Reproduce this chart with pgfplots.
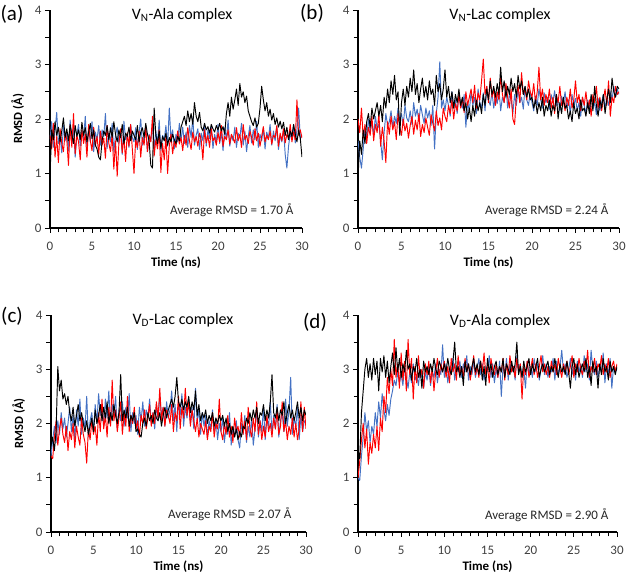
\documentclass[border=0pt]{standalone}
\usepackage{pgfplots}
\pgfplotsset{compat=1.18}
\usepackage{pgfplotstable}
\usepackage{fontspec}
\setmainfont{Carlito}
\definecolor{cblue}{HTML}{4472C4}
\definecolor{cred}{HTML}{FF0000}
\definecolor{tickgray}{HTML}{404040}

% ---------- panel (a) ----------
\pgfplotstableread[header=false,row sep=\\]{
1.62\\1.95\\1.48\\1.80\\2.12\\1.55\\1.70\\1.38\\1.88\\1.60\\
1.75\\1.42\\1.98\\1.56\\1.85\\1.30\\1.72\\1.90\\1.50\\1.78\\
1.64\\2.05\\1.45\\1.82\\1.58\\1.95\\1.40\\1.76\\1.62\\1.88\\
1.52\\1.80\\1.68\\2.10\\1.46\\1.74\\1.58\\1.92\\1.40\\1.70\\
1.85\\1.55\\1.78\\1.35\\1.96\\1.62\\1.70\\1.48\\1.90\\1.66\\
1.58\\1.84\\1.44\\1.75\\2.00\\1.52\\1.68\\1.86\\1.40\\1.72\\
1.60\\1.90\\1.46\\1.78\\1.55\\1.98\\1.42\\1.70\\1.62\\1.88\\
1.50\\2.20\\1.64\\1.80\\1.45\\1.72\\1.58\\1.92\\1.62\\1.85\\
1.55\\1.76\\1.48\\1.88\\1.66\\2.02\\1.52\\1.70\\1.82\\1.44\\
1.74\\1.60\\1.92\\1.50\\1.80\\1.64\\1.86\\1.46\\1.72\\1.58\\
1.90\\1.55\\1.76\\1.42\\1.84\\1.62\\1.98\\1.50\\1.70\\1.60\\
1.85\\1.48\\1.74\\1.66\\1.92\\1.52\\1.78\\1.40\\1.68\\1.88\\
1.56\\1.80\\1.62\\1.96\\1.48\\1.72\\1.60\\1.84\\1.45\\1.76\\
1.64\\1.90\\1.52\\1.78\\1.60\\1.86\\1.44\\1.70\\1.58\\1.82\\
1.35\\1.10\\1.50\\1.74\\1.62\\1.90\\1.56\\1.80\\2.20\\1.64\\
1.70\\
}\aB
\pgfplotstableread[header=false,row sep=\\]{
1.70\\1.45\\1.92\\1.30\\1.68\\1.20\\1.82\\1.55\\1.40\\1.75\\
1.62\\1.15\\1.88\\1.48\\2.10\\1.36\\1.70\\1.58\\1.25\\1.80\\
1.55\\1.72\\1.30\\1.90\\1.60\\1.42\\1.85\\1.50\\1.68\\1.35\\
1.78\\1.52\\1.65\\1.28\\1.88\\1.56\\1.40\\1.72\\1.08\\1.60\\
0.95\\1.55\\1.82\\1.38\\1.68\\1.22\\1.75\\1.50\\1.90\\1.45\\
1.00\\1.62\\1.48\\1.78\\1.30\\1.66\\1.52\\1.85\\1.40\\1.70\\
1.58\\2.05\\1.32\\1.62\\1.45\\1.80\\1.02\\1.55\\1.25\\1.68\\
1.00\\1.50\\1.72\\1.36\\1.60\\1.48\\1.78\\1.54\\1.66\\1.42\\
1.70\\1.52\\1.84\\1.60\\1.44\\1.76\\1.58\\1.68\\1.50\\1.74\\
1.62\\1.25\\1.80\\1.56\\1.70\\1.48\\1.82\\1.60\\1.66\\1.52\\
1.75\\1.58\\1.88\\1.50\\1.68\\1.62\\1.80\\1.54\\1.72\\1.64\\
1.56\\1.84\\1.60\\1.72\\1.48\\1.90\\1.62\\1.70\\1.55\\1.78\\
1.66\\1.52\\1.82\\1.60\\1.74\\1.50\\1.68\\1.86\\1.58\\1.70\\
1.62\\1.78\\1.54\\1.70\\1.66\\1.88\\1.50\\1.74\\1.60\\1.82\\
1.56\\1.72\\1.64\\1.90\\1.58\\1.76\\1.62\\2.35\\1.70\\1.80\\
1.65\\
}\aR
\pgfplotstableread[header=false,row sep=\\]{
0.95\\1.80\\1.62\\1.95\\1.70\\1.85\\1.58\\1.78\\2.02\\1.66\\
1.82\\1.60\\1.90\\1.72\\1.55\\1.88\\1.68\\1.80\\1.62\\1.94\\
1.70\\1.84\\1.58\\1.76\\1.92\\1.64\\1.80\\1.52\\1.45\\1.30\\
1.25\\1.60\\1.78\\1.70\\1.88\\1.62\\1.84\\1.66\\1.95\\1.72\\
1.58\\1.80\\1.66\\1.90\\1.55\\1.74\\1.68\\1.85\\1.60\\1.78\\
1.70\\1.62\\1.88\\1.58\\1.76\\1.84\\1.66\\1.92\\1.72\\1.60\\
1.15\\1.10\\2.20\\1.70\\1.55\\1.78\\1.46\\1.68\\1.60\\1.74\\
1.52\\1.66\\1.58\\1.72\\1.62\\1.55\\1.68\\1.60\\1.85\\1.95\\
2.05\\1.88\\2.15\\1.95\\2.10\\1.90\\2.30\\2.05\\1.95\\2.12\\
1.85\\1.78\\1.92\\1.80\\1.86\\1.74\\1.90\\1.82\\1.76\\1.88\\
1.80\\1.92\\1.78\\1.86\\1.72\\2.10\\2.30\\2.05\\2.40\\2.18\\
2.35\\2.55\\2.25\\2.65\\2.40\\2.50\\2.30\\2.42\\2.15\\2.05\\
1.95\\1.88\\2.02\\1.85\\1.92\\2.20\\2.60\\2.35\\2.15\\2.30\\
2.05\\2.18\\1.98\\2.10\\1.90\\2.02\\1.85\\1.96\\1.82\\1.94\\
1.70\\1.85\\1.62\\1.78\\1.68\\1.90\\1.72\\1.58\\1.80\\1.64\\
1.30\\
}\aK

% ---------- panel (b) ----------
\pgfplotstableread[header=false,row sep=\\]{
1.60\\1.30\\1.10\\1.45\\1.85\\1.65\\2.00\\1.78\\1.95\\1.70\\
2.05\\1.82\\1.90\\1.60\\1.25\\1.75\\2.10\\1.88\\1.95\\2.15\\
1.85\\2.05\\1.92\\2.20\\1.98\\2.10\\1.88\\2.25\\2.02\\1.95\\
2.15\\1.90\\2.30\\2.05\\2.18\\1.95\\2.25\\2.08\\1.92\\2.20\\
2.02\\2.15\\1.88\\2.25\\1.45\\2.10\\2.40\\3.05\\2.20\\2.35\\
2.15\\2.40\\2.25\\2.05\\2.50\\2.20\\2.35\\2.10\\2.45\\2.28\\
2.20\\2.45\\1.85\\2.30\\2.15\\2.50\\2.25\\2.40\\2.10\\2.55\\
2.30\\2.20\\2.48\\2.15\\2.60\\2.35\\2.25\\2.50\\2.20\\2.42\\
2.28\\2.55\\2.15\\2.40\\2.30\\2.62\\2.20\\2.45\\2.35\\2.10\\
2.45\\2.25\\2.55\\2.30\\2.40\\2.18\\2.60\\2.35\\2.25\\2.50\\
2.30\\2.15\\2.42\\2.25\\2.55\\2.35\\2.20\\2.48\\2.30\\2.40\\
2.18\\2.45\\2.30\\2.52\\2.25\\2.38\\2.15\\2.42\\2.28\\2.50\\
2.20\\2.35\\2.10\\2.45\\2.25\\2.38\\2.15\\2.30\\2.05\\2.40\\
2.25\\2.10\\2.35\\2.18\\2.42\\2.20\\2.30\\2.08\\2.38\\2.15\\
2.30\\2.45\\2.20\\2.38\\2.25\\2.50\\2.35\\2.60\\2.40\\2.55\\
2.45\\
}\bB
\pgfplotstableread[header=false,row sep=\\]{
2.00\\1.75\\2.20\\1.65\\1.90\\1.55\\1.85\\1.70\\2.05\\1.60\\
1.90\\1.75\\2.10\\1.50\\1.85\\1.60\\1.20\\1.95\\1.72\\2.05\\
1.80\\1.95\\1.62\\2.10\\1.85\\1.70\\2.00\\1.78\\1.92\\1.65\\
1.88\\2.05\\1.72\\1.98\\1.80\\2.10\\1.68\\1.90\\1.75\\2.02\\
1.85\\1.70\\2.08\\1.92\\1.78\\2.15\\1.88\\2.02\\1.80\\2.20\\
2.05\\1.95\\2.25\\2.10\\2.35\\2.00\\2.28\\2.15\\2.45\\2.20\\
2.38\\2.12\\2.50\\2.25\\2.40\\2.55\\2.30\\2.62\\2.20\\2.48\\
2.35\\2.70\\3.10\\2.45\\2.60\\2.30\\2.75\\2.40\\2.55\\2.25\\
2.50\\2.35\\2.80\\2.45\\2.30\\2.65\\2.40\\2.20\\2.55\\2.00\\
1.90\\2.40\\2.62\\2.30\\2.85\\2.45\\2.55\\2.35\\2.70\\2.50\\
2.40\\2.65\\2.30\\2.50\\2.95\\2.35\\2.55\\2.25\\2.45\\2.30\\
2.55\\2.20\\2.40\\2.10\\2.45\\2.30\\2.60\\2.25\\2.35\\2.15\\
2.40\\2.25\\2.55\\2.20\\2.35\\2.70\\2.30\\2.45\\2.15\\2.40\\
2.25\\2.50\\2.20\\2.35\\2.05\\2.45\\2.30\\2.60\\2.20\\2.40\\
2.15\\2.35\\2.55\\2.25\\2.70\\2.05\\2.40\\2.30\\2.60\\2.45\\
2.50\\
}\bR
\pgfplotstableread[header=false,row sep=\\]{
0.90\\1.60\\1.35\\1.80\\1.55\\1.95\\2.10\\1.85\\2.20\\2.00\\
2.15\\2.30\\2.05\\2.25\\1.95\\2.40\\2.20\\2.55\\2.30\\2.70\\
2.45\\2.80\\2.35\\2.50\\1.70\\2.30\\2.55\\2.25\\2.60\\2.40\\
2.75\\2.50\\2.90\\2.45\\2.65\\2.30\\2.55\\2.75\\2.40\\2.60\\
2.35\\2.70\\2.45\\2.55\\2.25\\2.80\\2.50\\2.65\\2.35\\2.55\\
2.90\\2.40\\2.60\\2.30\\2.50\\2.20\\2.45\\2.30\\2.55\\2.25\\
2.40\\2.15\\2.30\\2.00\\2.20\\1.95\\2.25\\2.05\\2.35\\2.15\\
2.30\\2.10\\2.45\\2.25\\2.55\\2.35\\2.70\\2.45\\2.60\\2.40\\
2.65\\2.45\\2.95\\2.50\\2.70\\2.40\\2.60\\2.45\\2.75\\2.50\\
2.65\\2.40\\2.80\\2.55\\2.70\\2.45\\2.60\\2.40\\2.55\\2.35\\
2.40\\2.20\\2.35\\2.10\\2.30\\2.15\\2.40\\2.05\\2.25\\2.15\\
2.35\\2.05\\2.25\\2.15\\2.45\\2.00\\2.30\\2.10\\2.40\\2.20\\
2.25\\2.00\\2.15\\1.95\\2.30\\2.10\\2.20\\2.00\\2.35\\2.15\\
2.20\\2.05\\2.30\\2.10\\2.45\\2.15\\2.60\\2.25\\2.05\\2.35\\
2.20\\2.45\\2.10\\2.35\\2.55\\2.30\\2.75\\2.50\\2.40\\2.60\\
2.55\\
}\bK

% ---------- panel (c) ----------
\pgfplotstableread[header=false,row sep=\\]{
1.40\\1.70\\1.95\\1.65\\2.05\\1.80\\2.20\\1.90\\2.10\\1.75\\
2.00\\2.30\\1.85\\2.15\\1.70\\2.25\\1.95\\2.45\\1.80\\2.10\\
1.90\\2.50\\1.75\\2.05\\2.20\\1.85\\2.35\\2.00\\2.55\\2.15\\
2.30\\1.95\\2.45\\2.10\\2.60\\2.00\\2.35\\2.15\\2.50\\1.90\\
2.25\\2.05\\2.40\\1.95\\2.30\\2.10\\2.55\\1.85\\2.20\\2.00\\
2.15\\1.80\\2.30\\2.05\\2.40\\1.95\\2.25\\2.10\\2.45\\2.00\\
2.20\\1.90\\2.35\\2.05\\2.50\\2.15\\2.30\\1.95\\2.40\\2.10\\
2.25\\2.60\\2.05\\2.35\\1.85\\2.40\\2.15\\2.55\\1.95\\2.30\\
2.10\\2.45\\2.00\\2.30\\1.90\\2.65\\2.05\\2.25\\1.80\\2.20\\
1.95\\2.15\\1.75\\2.05\\1.90\\2.25\\1.85\\2.10\\1.70\\2.00\\
1.85\\2.10\\1.65\\1.95\\1.80\\2.20\\1.60\\1.90\\1.75\\2.05\\
1.70\\1.55\\2.00\\1.80\\2.15\\1.65\\1.95\\1.75\\2.10\\1.60\\
1.90\\2.25\\1.75\\2.05\\1.85\\2.30\\1.70\\2.10\\1.95\\2.40\\
1.80\\2.15\\1.90\\2.35\\1.75\\2.05\\2.20\\1.85\\2.45\\1.95\\
2.25\\2.85\\1.80\\2.10\\1.95\\2.30\\1.70\\2.15\\1.85\\2.05\\
2.00\\
}\cB
\pgfplotstableread[header=false,row sep=\\]{
1.40\\1.35\\1.75\\2.05\\1.60\\1.90\\2.10\\1.80\\1.65\\1.95\\
1.50\\1.85\\1.70\\2.00\\1.55\\1.95\\1.75\\1.60\\2.10\\1.80\\
1.65\\1.27\\1.90\\1.70\\2.05\\1.80\\1.95\\1.60\\2.20\\1.85\\
2.45\\1.90\\2.15\\1.75\\2.30\\1.95\\2.80\\2.05\\2.25\\1.85\\
2.10\\2.40\\1.80\\2.20\\1.95\\2.50\\1.85\\2.15\\2.00\\2.30\\
1.90\\2.05\\1.75\\2.15\\2.00\\2.25\\1.90\\2.10\\2.35\\1.95\\
2.20\\2.00\\2.40\\2.10\\2.65\\2.05\\2.30\\1.95\\2.25\\2.15\\
2.00\\2.35\\1.85\\2.20\\2.05\\2.50\\1.90\\2.30\\2.10\\2.65\\
2.15\\2.40\\1.95\\2.25\\2.05\\1.85\\2.10\\1.75\\2.00\\1.90\\
1.80\\2.05\\1.70\\1.95\\1.85\\2.20\\1.75\\2.00\\1.90\\2.45\\
1.85\\1.70\\2.00\\1.80\\2.15\\1.75\\1.95\\1.65\\2.10\\1.85\\
1.95\\1.75\\2.20\\1.80\\2.05\\1.70\\2.30\\1.90\\1.75\\2.10\\
1.85\\2.40\\1.80\\2.05\\1.70\\1.95\\1.75\\2.15\\1.85\\2.00\\
1.75\\2.10\\1.90\\2.25\\1.80\\1.95\\2.40\\1.85\\2.05\\1.70\\
1.95\\1.80\\2.10\\1.75\\2.00\\1.70\\1.90\\2.40\\1.85\\2.30\\
1.90\\
}\cR
\pgfplotstableread[header=false,row sep=\\]{
1.60\\1.75\\1.50\\1.85\\3.05\\2.60\\2.80\\2.45\\2.55\\2.35\\
2.50\\2.20\\2.05\\2.30\\1.95\\2.15\\2.35\\2.05\\2.20\\2.00\\
1.85\\2.05\\1.80\\1.95\\2.10\\1.85\\2.25\\2.00\\2.15\\2.35\\
2.05\\2.30\\2.10\\2.40\\2.00\\2.20\\2.05\\2.35\\2.15\\2.00\\
2.20\\2.90\\2.05\\2.25\\2.10\\2.30\\1.95\\2.15\\2.05\\2.20\\
1.85\\1.90\\1.80\\1.75\\2.00\\2.10\\1.95\\2.20\\2.05\\2.15\\
2.00\\2.25\\2.10\\2.05\\2.20\\1.95\\2.15\\2.30\\2.10\\2.25\\
2.35\\2.45\\2.30\\2.50\\2.85\\2.40\\2.30\\2.45\\2.25\\2.40\\
2.30\\2.50\\2.20\\2.40\\2.25\\2.60\\2.15\\2.35\\2.05\\2.20\\
2.10\\2.25\\2.00\\2.15\\2.05\\2.20\\1.95\\2.10\\2.00\\2.15\\
2.05\\2.15\\1.95\\2.10\\1.85\\2.00\\1.80\\1.95\\1.75\\1.90\\
1.70\\1.85\\1.75\\1.95\\1.90\\2.10\\2.00\\2.20\\2.05\\2.25\\
2.10\\2.30\\2.00\\2.20\\2.15\\2.35\\2.05\\2.25\\2.10\\2.40\\
2.90\\2.20\\2.10\\2.30\\2.05\\2.25\\2.15\\2.40\\2.00\\2.20\\
2.35\\2.10\\2.25\\2.05\\2.20\\2.40\\2.10\\2.30\\2.05\\2.25\\
2.15\\
}\cK

% ---------- panel (d) ----------
\pgfplotstableread[header=false,row sep=\\]{
1.00\\0.95\\1.40\\1.75\\2.20\\1.85\\2.05\\1.65\\1.95\\1.80\\
2.20\\1.95\\2.40\\2.10\\2.55\\2.25\\2.05\\2.35\\2.15\\2.45\\
2.60\\2.80\\2.70\\2.95\\2.75\\2.90\\2.70\\3.05\\2.85\\2.65\\
2.95\\2.75\\3.10\\2.80\\2.90\\2.70\\3.00\\2.85\\2.65\\2.95\\
2.80\\3.05\\2.70\\2.95\\2.85\\3.10\\2.75\\3.00\\2.90\\3.45\\
2.85\\3.10\\2.75\\3.00\\2.90\\3.20\\2.80\\3.05\\2.95\\3.15\\
2.85\\3.10\\2.95\\3.25\\2.80\\3.05\\2.90\\3.15\\2.85\\3.00\\
3.20\\2.90\\3.10\\2.80\\3.05\\2.95\\3.25\\2.85\\3.10\\2.75\\
3.00\\2.85\\3.15\\2.50\\3.05\\2.90\\3.20\\2.80\\3.10\\2.95\\
3.05\\2.80\\3.25\\2.95\\3.10\\2.85\\3.00\\2.65\\3.15\\2.90\\
3.05\\2.85\\3.20\\2.95\\3.10\\2.80\\3.00\\3.25\\2.90\\3.10\\
2.85\\3.05\\2.95\\3.20\\2.80\\3.15\\2.90\\3.05\\3.35\\2.95\\
3.10\\2.85\\3.00\\3.20\\2.90\\3.05\\2.80\\3.15\\2.95\\3.10\\
2.85\\3.25\\2.95\\3.10\\2.80\\3.35\\3.00\\2.90\\3.15\\2.85\\
3.05\\2.95\\3.30\\2.75\\3.10\\2.90\\3.20\\2.65\\3.05\\2.95\\
3.00\\
}\dB
\pgfplotstableread[header=false,row sep=\\]{
1.00\\1.30\\1.70\\2.00\\1.55\\1.90\\1.25\\1.65\\1.45\\1.80\\
1.55\\1.95\\1.50\\2.10\\1.85\\2.50\\2.20\\2.85\\2.55\\3.00\\
2.70\\3.55\\2.85\\3.10\\2.65\\3.30\\2.80\\3.15\\2.60\\3.55\\
2.90\\3.20\\2.45\\3.05\\2.75\\3.25\\2.85\\3.00\\2.65\\3.10\\
2.90\\3.15\\2.75\\3.05\\2.60\\2.95\\3.20\\2.85\\3.10\\2.95\\
3.15\\2.85\\3.05\\2.75\\3.20\\2.95\\3.10\\2.80\\3.25\\2.90\\
3.05\\2.85\\3.20\\2.95\\3.10\\2.80\\3.00\\3.25\\2.90\\3.05\\
2.85\\3.15\\2.95\\3.30\\2.90\\3.05\\2.75\\3.20\\3.00\\2.90\\
3.10\\2.85\\3.05\\2.95\\3.20\\2.80\\3.10\\2.90\\3.25\\2.95\\
3.05\\2.85\\3.20\\2.95\\3.10\\2.45\\3.05\\2.90\\3.15\\2.85\\
3.00\\3.20\\2.90\\3.10\\2.85\\3.05\\3.25\\2.95\\3.10\\2.90\\
3.05\\2.85\\3.15\\2.95\\3.10\\2.90\\3.20\\3.00\\2.85\\3.10\\
2.95\\3.15\\2.90\\3.05\\3.25\\2.85\\3.10\\2.95\\3.20\\3.00\\
2.90\\3.15\\3.00\\3.35\\2.85\\3.05\\2.95\\3.20\\2.90\\3.10\\
3.00\\3.25\\2.90\\3.10\\2.95\\3.20\\2.85\\3.05\\3.15\\2.95\\
3.10\\
}\dR
\pgfplotstableread[header=false,row sep=\\]{
1.50\\1.35\\2.20\\2.60\\3.00\\3.20\\2.85\\3.10\\2.80\\3.20\\
2.90\\3.15\\2.60\\3.20\\2.95\\3.25\\2.85\\3.15\\2.75\\3.05\\
3.30\\2.90\\3.40\\2.95\\3.20\\2.85\\3.10\\2.95\\3.35\\3.00\\
3.10\\2.80\\3.05\\2.95\\3.20\\2.85\\3.00\\2.65\\3.15\\2.95\\
3.05\\2.90\\3.10\\2.95\\3.20\\3.00\\2.90\\3.15\\3.05\\2.95\\
3.10\\2.95\\3.20\\3.00\\2.90\\3.15\\3.50\\2.95\\3.05\\2.85\\
3.05\\2.70\\3.15\\2.95\\3.10\\2.90\\3.05\\3.20\\2.95\\3.10\\
2.90\\3.15\\2.80\\3.05\\2.70\\3.20\\2.95\\3.10\\2.85\\3.05\\
3.15\\2.90\\3.05\\2.95\\3.20\\2.85\\3.10\\3.00\\2.90\\3.15\\
2.95\\3.10\\3.50\\2.90\\3.05\\2.85\\3.15\\2.95\\3.05\\3.20\\
2.90\\3.10\\2.95\\3.05\\3.20\\2.85\\3.00\\3.10\\2.95\\3.05\\
3.15\\2.90\\3.05\\2.95\\3.20\\3.00\\2.85\\3.10\\2.95\\3.05\\
2.90\\3.15\\2.95\\2.65\\3.05\\3.20\\2.90\\3.10\\2.85\\3.00\\
3.10\\2.95\\3.20\\2.85\\3.05\\2.70\\3.15\\2.95\\3.05\\2.65\\
3.10\\2.90\\3.20\\2.95\\3.05\\2.80\\3.15\\2.95\\3.05\\2.90\\
3.05\\
}\dK

\pgfplotsset{
  panel/.style={
    scale only axis,
    xmin=0, xmax=30, ymin=0, ymax=4,
    axis x line*=bottom, axis y line*=left,
    axis line style={-, line width=1.4pt, black},
    xtick={0,5,10,15,20,25,30}, ytick={0,1,2,3,4},
    minor x tick num=4, minor y tick num=1,
    tick align=outside,
    major tick length=5pt, minor tick length=4.5pt,
    every tick/.style={black, line width=0.8pt},
    ticklabel style={font=\fontsize{13}{15}\selectfont, text=tickgray},
    xticklabel style={yshift=-6pt},
    /pgf/number format/assume math mode=true,
    xlabel={Time (ns)},
    xlabel style={font=\bfseries\fontsize{13}{15}\selectfont, yshift=1pt},
    ylabel style={font=\bfseries\fontsize{12.5}{15}\selectfont, yshift=4pt},
  },
  ser/.style={line width=0.95pt, line join=round},
}

\begin{document}
\begin{tikzpicture}
\useasboundingbox (0pt,0pt) rectangle (627pt,573pt);

% (a)
\begin{axis}[panel, at={(50pt,345pt)}, anchor=south west, width=252pt, height=218pt,
  ylabel={RMSD (Å)}]
\addplot[cblue, ser] table[x expr=\coordindex*0.2, y index=0] {\aB};
\addplot[cred, ser] table[x expr=\coordindex*0.2, y index=0] {\aR};
\addplot[black, ser] table[x expr=\coordindex*0.2, y index=0] {\aK};
\end{axis}

% (b)
\begin{axis}[panel, at={(358pt,345pt)}, anchor=south west, width=261pt, height=218pt]
\addplot[cblue, ser] table[x expr=\coordindex*0.2, y index=0] {\bB};
\addplot[cred, ser] table[x expr=\coordindex*0.2, y index=0] {\bR};
\addplot[black, ser] table[x expr=\coordindex*0.2, y index=0] {\bK};
\end{axis}

% (c)
\begin{axis}[panel, at={(51pt,41pt)}, anchor=south west, width=255pt, height=217pt,
  ylabel={RMSD (Å)}]
\addplot[cblue, ser] table[x expr=\coordindex*0.2, y index=0] {\cB};
\addplot[cred, ser] table[x expr=\coordindex*0.2, y index=0] {\cR};
\addplot[black, ser] table[x expr=\coordindex*0.2, y index=0] {\cK};
\end{axis}

% (d)
\begin{axis}[panel, at={(358pt,41pt)}, anchor=south west, width=259pt, height=217pt]
\addplot[cblue, ser] table[x expr=\coordindex*0.2, y index=0] {\dB};
\addplot[cred, ser] table[x expr=\coordindex*0.2, y index=0] {\dR};
\addplot[black, ser] table[x expr=\coordindex*0.2, y index=0] {\dK};
\end{axis}

% panel letters
\node[font=\fontsize{21}{24}\selectfont] at (12pt,559pt) {(a)};
\node[font=\fontsize{21}{24}\selectfont] at (312pt,560pt) {(b)};
\node[font=\fontsize{21}{24}\selectfont] at (12pt,257pt) {(c)};
\node[font=\fontsize{21}{24}\selectfont] at (315pt,251pt) {(d)};

% titles
\node[font=\fontsize{16}{18}\selectfont] at (182pt,558pt) {V\textsubscript{N}-Ala complex};
\node[font=\fontsize{16}{18}\selectfont] at (500pt,558pt) {V\textsubscript{N}-Lac complex};
\node[font=\fontsize{16}{18}\selectfont] at (183pt,253pt) {V\textsubscript{D}-Lac complex};
\node[font=\fontsize{16}{18}\selectfont] at (500pt,252pt) {V\textsubscript{D}-Ala complex};

% averages
\node[anchor=east, font=\fontsize{13}{15}\selectfont, text=black!85] at (297pt,363pt) {Average RMSD = 1.70 Å};
\node[anchor=east, font=\fontsize{13}{15}\selectfont, text=black!85] at (612pt,363pt) {Average RMSD = 2.24 Å};
\node[anchor=east, font=\fontsize{13}{15}\selectfont, text=black!85] at (295pt,59pt) {Average RMSD = 2.07 Å};
\node[anchor=east, font=\fontsize{13}{15}\selectfont, text=black!85] at (612pt,58pt) {Average RMSD = 2.90 Å};
\end{tikzpicture}
\end{document}
